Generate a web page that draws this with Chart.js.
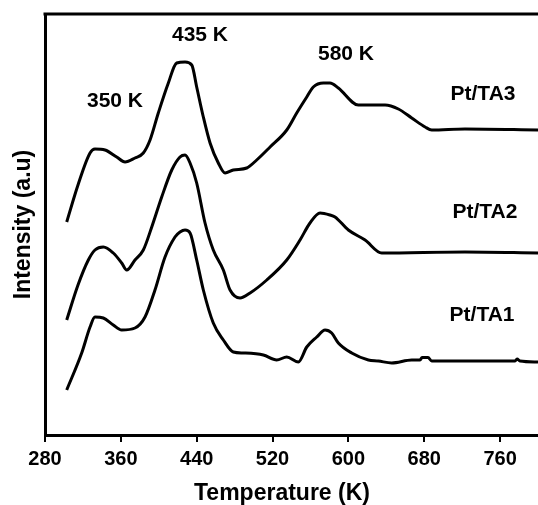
<!DOCTYPE html>
<html>
<head>
<meta charset="utf-8">
<script src="https://cdn.jsdelivr.net/npm/chart.js@4/dist/chart.umd.min.js"></script>
<style>
html,body{margin:0;padding:0;background:#fff;}
#wrap{width:538px;height:505px;position:relative;}
</style>
</head>
<body>
<div id="wrap"><canvas id="c" width="538" height="505"></canvas></div>
<script>
// ---- data ----
const tempTA3 = [302.9,314.8,327.5,332.7,343.3,355.6,364.4,374.9,383.7,390.8,399.5,410.1,418.9,427.7,434.8,440,447,454.1,462.8,469.9,478.6,492.8,503.3,517.4,535,545.5,556.1,563,573.6,580.6,589.4,610.5,638.7,652.7,666.8,680.9,687.9,723,800];
const intTA3  = [213,250,282,286,285,278,273,277,282,295,322,352,372,373,370,348,318,292,272,262,265,267,275,288,305,322,338,348,352,352,347,330,330,326,317,308,305,306,305];

const tempTA2 = [302.9,314.8,325.7,332.7,341.5,352,360.9,366.2,374.9,383.7,392.6,403.1,413.7,422.4,427.7,433,440,448.8,457.5,468.1,475.2,485.7,496.3,513.9,535,549,559.5,570.1,580.6,585.9,600,617.6,635.2,723,800];
const intTA2  = [115,150,175,185,188,182,172,165,175,185,208,238,265,278,280,272,252,212,185,165,145,137,142,155,175,195,212,222,220,218,205,195,182,183,182];

const tempTA1 = [302.9,318.7,327.5,332.7,341.5,352,360.9,374.9,385.5,396,406.6,417.1,422.4,427.7,433,440,447,457.5,468.1,478.6,489.2,510.3,524.4,535,547.2,556.1,566.6,575.4,582.4,589.4,603.5,621.1,631.6,645.7,666.8,675.6,677.7,684,687.9,775.8,777.9,781,800];
const intTA1  = [45,82,108,118,117,110,105,107,118,145,178,198,203,205,202,175,145,112,95,83,82,80,75,78,73,88,98,105,102,92,82,75,74,72,75,75,77.5,77.5,74,74,76,74,73];

const xTicks = [280,360,440,520,600,680,760];
const noteText = ["350 K","435 K","580 K","Pt/TA3","Pt/TA2","Pt/TA1"];
const noteX    = [353.8, 443.5, 597.5, 742, 744, 741];
const noteY    = [334, 400, 381, 341, 223, 120];
const xTitle = 'Temperature (K)';
const yTitle = 'Intensity (a.u)';

const toPts = (xs, ys) => xs.map((x, i) => ({x: x, y: ys[i]}));

const FONT = "'Liberation Sans', Arial, sans-serif";

const frame = {
  id: 'frame',
  afterDraw(chart) {
    const {ctx, chartArea: a, scales} = chart;
    ctx.save();
    ctx.strokeStyle = '#000';
    ctx.lineWidth = 3;
    ctx.beginPath();
    ctx.moveTo(a.left - 1.5, a.top);
    ctx.lineTo(a.right, a.top);
    ctx.stroke();
    ctx.fillStyle = '#000';
    ctx.font = "bold 21px " + FONT;
    ctx.textAlign = 'center';
    ctx.textBaseline = 'middle';
    noteText.forEach((t, i) => {
      ctx.fillText(t, scales.x.getPixelForValue(noteX[i]), scales.y.getPixelForValue(noteY[i]));
    });
    ctx.font = "bold 23px " + FONT;
    ctx.fillText(xTitle, 282, 494);
    ctx.restore();
  }
};

const ds = (label, pts) => ({
  label: label, data: pts, borderColor: '#000', borderWidth: 3,
  pointRadius: 0, fill: false, cubicInterpolationMode: 'monotone'
});

new Chart(document.getElementById('c'), {
  type: 'line',
  data: {
    datasets: [
      ds('Pt/TA3', toPts(tempTA3, intTA3)),
      ds('Pt/TA2', toPts(tempTA2, intTA2)),
      ds('Pt/TA1', toPts(tempTA1, intTA1))
    ]
  },
  options: {
    responsive: false,
    animation: false,
    events: [],
    layout: {padding: {top: 14, right: 0, left: 0, bottom: 0}},
    plugins: {legend: {display: false}, tooltip: {enabled: false}},
    scales: {
      x: {
        type: 'linear', min: 280, max: 800,
        afterBuildTicks: (s) => { s.ticks = xTicks.map(v => ({value: v})); },
        afterFit: (s) => { s.height = 70; },
        border: {display: true, color: '#000', width: 3},
        grid: {display: true, drawOnChartArea: false, drawTicks: true, tickLength: 7, color: '#000', lineWidth: 2},
        ticks: {color: '#000', font: {family: FONT, size: 20, weight: 'bold'}, padding: 5, maxRotation: 0},
        title: {display: false}
      },
      y: {
        type: 'linear', min: 0, max: 421,
        afterFit: (s) => { s.width = 45; },
        border: {display: true, color: '#000', width: 3},
        grid: {display: false},
        ticks: {display: false},
        title: {display: true, text: yTitle, color: '#000', font: {family: FONT, size: 23, weight: 'bold'}, padding: {top: 10, bottom: 0}}
      }
    }
  },
  plugins: [frame]
});
</script>
</body>
</html>
